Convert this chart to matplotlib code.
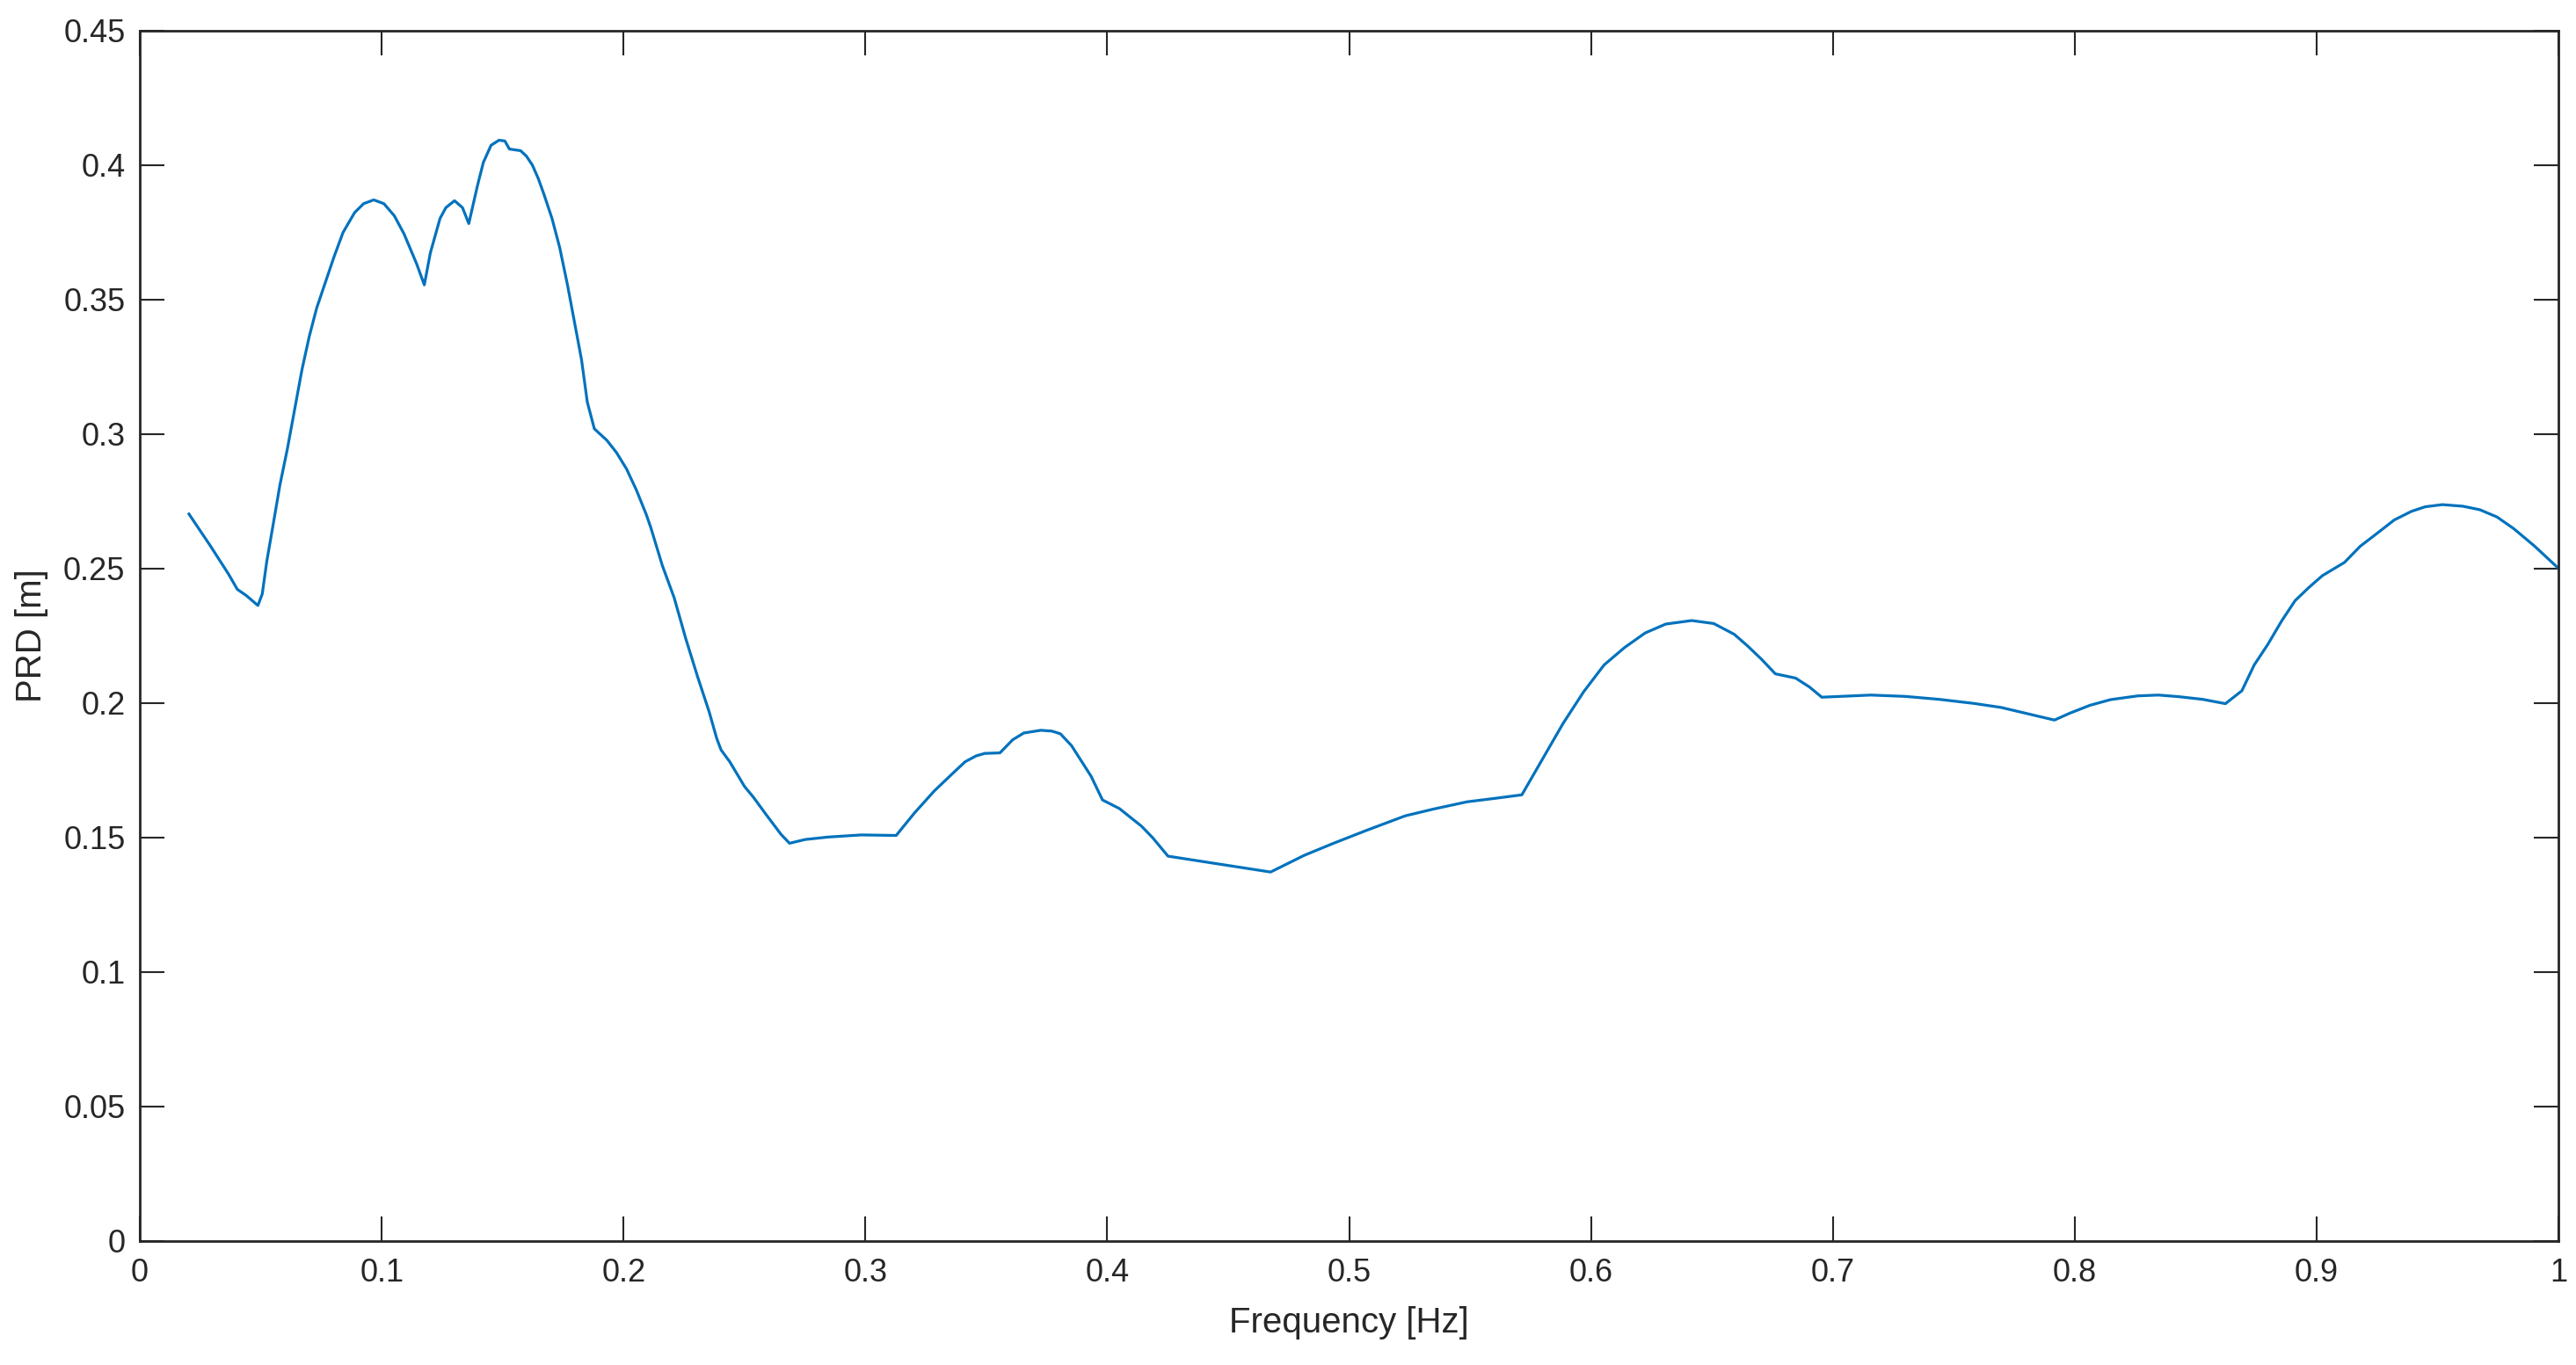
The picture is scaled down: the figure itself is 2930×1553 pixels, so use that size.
import numpy as np
import matplotlib
matplotlib.use('Agg')
import matplotlib.pyplot as plt

# values
freq = [0.0203, 0.0292, 0.0367, 0.0403, 0.0440, 0.0488, 0.0506, 0.0525, 0.0549,
        0.0579, 0.0610, 0.0640, 0.0670, 0.0700, 0.0731, 0.0767, 0.0803, 0.0840,
        0.0888, 0.0925, 0.0967, 0.1009, 0.1052, 0.1092, 0.1144, 0.1176, 0.1201,
        0.1241, 0.1265, 0.1301, 0.1334, 0.1360, 0.1395, 0.1420, 0.1452, 0.1485,
        0.1509, 0.1528, 0.1574, 0.1598, 0.1623, 0.1647, 0.1671, 0.1704, 0.1736,
        0.1768, 0.1801, 0.1826, 0.1850, 0.1879, 0.1931, 0.1971, 0.2012, 0.2053,
        0.2093, 0.2112, 0.2160, 0.2209, 0.2257, 0.2306, 0.2354, 0.2385, 0.2403,
        0.2439, 0.2500, 0.2536, 0.2589, 0.2651, 0.2686, 0.2751, 0.2844, 0.2983,
        0.3127, 0.3203, 0.3284, 0.3354, 0.3412, 0.3458, 0.3493, 0.3556, 0.3609,
        0.3655, 0.3725, 0.3771, 0.3806, 0.3852, 0.3887, 0.3933, 0.3980, 0.4050,
        0.4096, 0.4142, 0.4188, 0.4251, 0.4467, 0.4675, 0.4814, 0.4930, 0.5069,
        0.5232, 0.5348, 0.5487, 0.5603, 0.5714, 0.5800, 0.5884, 0.5970, 0.6054,
        0.6139, 0.6224, 0.6309, 0.6416, 0.6507, 0.6592, 0.6648, 0.6705, 0.6762,
        0.6846, 0.6903, 0.6954, 0.7157, 0.7299, 0.7440, 0.7582, 0.7695, 0.7916,
        0.7978, 0.8063, 0.8148, 0.8261, 0.8346, 0.8430, 0.8529, 0.8623, 0.8691,
        0.8742, 0.8798, 0.8855, 0.8911, 0.8968, 0.9024, 0.9115, 0.9180, 0.9251,
        0.9321, 0.9392, 0.9449, 0.9520, 0.9605, 0.9675, 0.9746, 0.9816, 0.9902,
        1.0000]
prd = [0.2703, 0.2584, 0.2479, 0.2423, 0.2400, 0.2363, 0.2406, 0.2529, 0.2653,
       0.2811, 0.2946, 0.3092, 0.3239, 0.3362, 0.3469, 0.3565, 0.3660, 0.3750,
       0.3824, 0.3857, 0.3871, 0.3857, 0.3812, 0.3745, 0.3634, 0.3555, 0.3674,
       0.3802, 0.3842, 0.3868, 0.3842, 0.3783, 0.3921, 0.4010, 0.4074, 0.4093,
       0.4090, 0.4060, 0.4054, 0.4034, 0.4000, 0.3951, 0.3891, 0.3802, 0.3693,
       0.3555, 0.3396, 0.3277, 0.3119, 0.3020, 0.2977, 0.2931, 0.2871, 0.2792,
       0.2703, 0.2654, 0.2512, 0.2392, 0.2240, 0.2098, 0.1967, 0.1869, 0.1826,
       0.1782, 0.1690, 0.1651, 0.1586, 0.1512, 0.1479, 0.1493, 0.1502, 0.1510,
       0.1508, 0.1592, 0.1673, 0.1733, 0.1782, 0.1804, 0.1813, 0.1815, 0.1864,
       0.1889, 0.1899, 0.1896, 0.1886, 0.1842, 0.1793, 0.1728, 0.1640, 0.1608,
       0.1575, 0.1542, 0.1499, 0.1431, 0.1401, 0.1372, 0.1434, 0.1477, 0.1526,
       0.1581, 0.1606, 0.1633, 0.1646, 0.1659, 0.1793, 0.1924, 0.2043, 0.2142,
       0.2207, 0.2261, 0.2294, 0.2307, 0.2296, 0.2256, 0.2212, 0.2163, 0.2109,
       0.2093, 0.2060, 0.2022, 0.2030, 0.2025, 0.2014, 0.1999, 0.1984, 0.1937,
       0.1962, 0.1992, 0.2013, 0.2027, 0.2030, 0.2024, 0.2014, 0.1998, 0.2046,
       0.2142, 0.2218, 0.2305, 0.2381, 0.2430, 0.2474, 0.2523, 0.2583, 0.2632,
       0.2681, 0.2713, 0.2730, 0.2738, 0.2732, 0.2719, 0.2692, 0.2648, 0.2583,
       0.2501]

xticks = [0, 0.1, 0.2, 0.3, 0.4, 0.5, 0.6, 0.7, 0.8, 0.9, 1]
xtick_labels = ['0', '0.1', '0.2', '0.3', '0.4', '0.5', '0.6', '0.7', '0.8', '0.9', '1']
yticks = [0, 0.05, 0.1, 0.15, 0.2, 0.25, 0.3, 0.35, 0.4, 0.45]
ytick_labels = ['0', '0.05', '0.1', '0.15', '0.2', '0.25', '0.3', '0.35', '0.4', '0.45']

plt.rcParams['font.family'] = ['Liberation Sans', 'DejaVu Sans']
axcol = '#262626'

fig = plt.figure(figsize=(29.30, 15.53), dpi=100)
ax = fig.add_axes([0.0543, 0.0908, 0.9389, 0.8867])
ax.plot(freq, prd, color='#0072BD', linewidth=2.3, solid_joinstyle='round')

ax.set_xlim(0, 1)
ax.set_ylim(0, 0.45)
ax.set_xticks(xticks)
ax.set_xticklabels(xtick_labels)
ax.set_yticks(yticks)
ax.set_yticklabels(ytick_labels)
ax.tick_params(direction='in', length=20, width=1.5, color=axcol, labelsize=26,
               labelcolor=axcol, top=True, right=True)
ax.tick_params(axis='x', pad=14)
ax.tick_params(axis='y', pad=12)
for s in ax.spines.values():
    s.set_linewidth(2.0)
    s.set_color(axcol)

ax.set_xlabel('Frequency [Hz]', fontsize=29, color=axcol, labelpad=14)
ax.set_ylabel('PRD [m]', fontsize=29, color=axcol, labelpad=12)

fig.savefig('out.png', dpi=100)
